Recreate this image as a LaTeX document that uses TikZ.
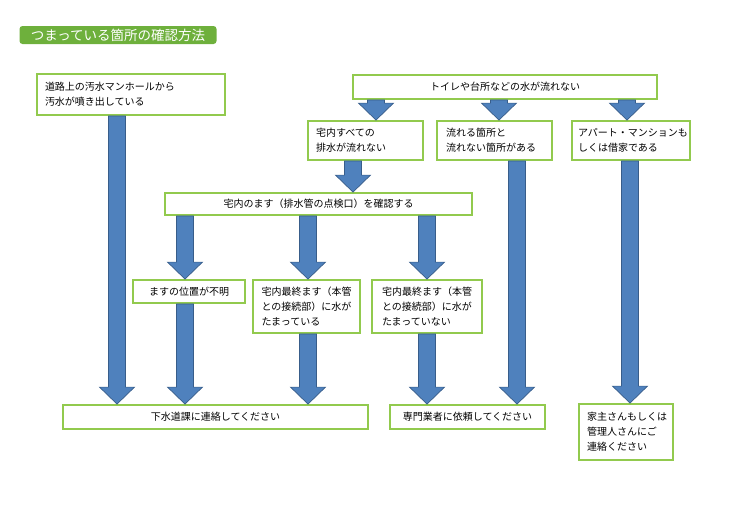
\documentclass[tikz,border=0pt]{standalone}
\usepackage{fontspec}
\usepackage{tikz}
\usetikzlibrary{calc}
\newfontfamily\jp{Noto Sans CJK JP}
\definecolor{boxgreen}{RGB}{146,202,78}
\definecolor{titlegreen}{RGB}{110,176,60}
\definecolor{arrowblue}{RGB}{79,129,189}
\definecolor{arrowedge}{RGB}{56,93,138}
% block arrow going down at x=#1 from node #2 to node #3
\newcommand{\flowarrow}[3]{%
  \draw[flow] let \p1=(#2.south), \p2=(#3.north) in
    ({#1pt-8.5pt},\y1) -- ({#1pt+8.5pt},\y1) -- ({#1pt+8.5pt},\y2+17pt) --
    ({#1pt+17.5pt},\y2+17pt) -- (#1pt,\y2) -- ({#1pt-17.5pt},\y2+17pt) --
    ({#1pt-8.5pt},\y2+17pt) -- cycle;}

\begin{document}
\begin{tikzpicture}[x=1pt, y=-1pt,
    box/.style={draw=boxgreen, line width=1.8pt, fill=white, inner ysep=0pt,
      font=\jp\fontsize{10}{15}\selectfont},
    flow/.style={fill=arrowblue, draw=arrowedge, line width=0.7pt, line join=miter}]
  \useasboundingbox (0,0) rectangle (750,530);
  \node [fill=titlegreen, rounded corners=3pt, text=white, inner sep=0pt,
    minimum width=197pt, minimum height=18pt,
    font=\jp\fontsize{13.5}{14}\selectfont] (title) at (118,35) {つまっている箇所の確認方法};

  \node [box, minimum width=188pt, minimum height=41pt, inner xsep=8pt, text width=172pt, align=left]
    (a) at (131,94.5) {道路上の汚水マンホールから\\汚水が噴き出している};
  \node [box, minimum width=304pt, minimum height=24pt] (b) at (505,87) {トイレや台所などの水が流れない};
  \node [box, minimum width=115pt, minimum height=39pt, inner xsep=8pt, text width=99pt, align=left]
    (c) at (365.5,140.5) {宅内すべての\\排水が流れない};
  \node [box, minimum width=115pt, minimum height=39pt, inner xsep=9pt, text width=97pt, align=left]
    (d) at (494.5,140.5) {流れる箇所と\\流れない箇所がある};
  \node [box, minimum width=118pt, minimum height=39pt, inner xsep=6pt, text width=106pt, align=left]
    (e) at (631,140.5) {アパート・マンションも\\しくは借家である};
  \node [box, minimum width=307pt, minimum height=22pt] (f) at (318.5,204) {宅内のます（排水管の点検口）を確認する};
  \node [box, minimum width=112pt, minimum height=23pt] (g) at (189,291.5) {ますの位置が不明};
  \node [box, minimum width=107pt, minimum height=53pt, inner xsep=8.5pt, text width=90pt, align=left]
    (h) at (306.5,306.5) {宅内最終ます（本管\\との接続部）に水が\\たまっている};
  \node [box, minimum width=110pt, minimum height=53pt, inner xsep=10pt, text width=90pt, align=left]
    (i) at (427,306.5) {宅内最終ます（本管\\との接続部）に水が\\たまっていない};
  \node [box, minimum width=305pt, minimum height=24pt] (j) at (215.5,417) {下水道課に連絡してください};
  \node [box, minimum width=155pt, minimum height=24pt] (k) at (467.5,417) {専門業者に依頼してください};
  \node [box, minimum width=94pt, minimum height=56pt, inner xsep=8pt, text width=78pt, align=left]
    (l) at (626,432) {家主さんもしくは\\管理人さんにご\\連絡ください};

  \flowarrow{117}{a}{j}
  \flowarrow{376}{b}{c}
  \flowarrow{499}{b}{d}
  \flowarrow{627}{b}{e}
  \flowarrow{353}{c}{f}
  \flowarrow{185}{f}{g}
  \flowarrow{308}{f}{h}
  \flowarrow{427}{f}{i}
  \flowarrow{185}{g}{j}
  \flowarrow{308}{h}{j}
  \flowarrow{427}{i}{k}
  \flowarrow{517}{d}{k}
  \flowarrow{630}{e}{l}
\end{tikzpicture}
\end{document}
